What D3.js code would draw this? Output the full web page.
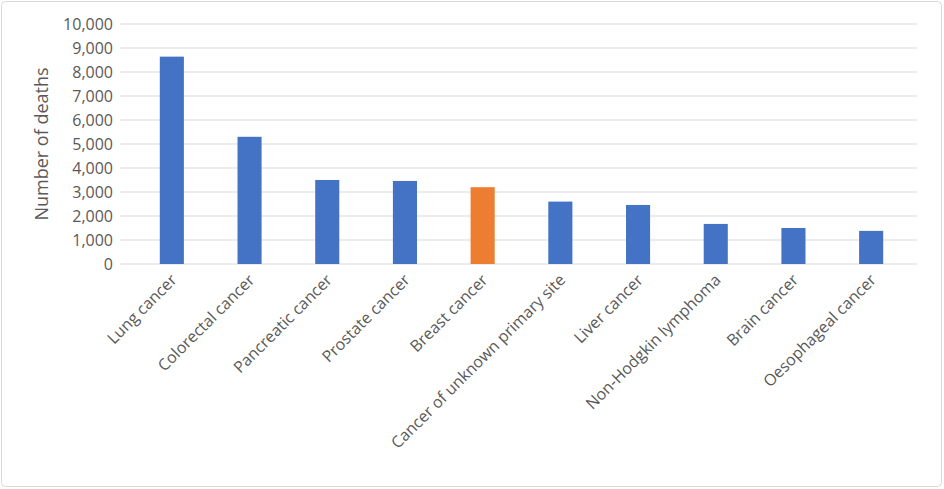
<!DOCTYPE html>
<html><head><meta charset="utf-8">
<script src="https://cdn.jsdelivr.net/npm/d3@7"></script>
<style>body{margin:0;background:#fff;font-family:"Open Sans","Liberation Sans",sans-serif}</style>
</head><body><svg id="c" width="944" height="489"></svg>
<script>
const categories=["Lung cancer","Colorectal cancer","Pancreatic cancer","Prostate cancer","Breast cancer","Cancer of unknown primary site","Liver cancer","Non-Hodgkin lymphoma","Brain cancer","Oesophageal cancer"];
const deaths=[8640,5300,3500,3460,3200,2600,2460,1670,1500,1380];
const highlight="Breast cancer";
const yTicks=[0,1000,2000,3000,4000,5000,6000,7000,8000,9000,10000];
const svg=d3.select("#c");
svg.append("rect").attr("x",1.5).attr("y",1.5).attr("width",940).attr("height",485).attr("rx",4).attr("fill","#fff").attr("stroke","#d9d9d9");
const x=d3.scaleBand().domain(categories).range([133,910]).paddingInner(0.69).paddingOuter(0.345);
const y=d3.scaleLinear().domain([0,10000]).range([264,24]);
const g=svg.append("g");
g.selectAll("line.grid").data(yTicks).join("line").attr("x1",120).attr("x2",917).attr("y1",d=>y(d)).attr("y2",d=>y(d)).attr("stroke","#d9d9d9");
g.selectAll("rect.bar").data(categories).join("rect").attr("x",d=>x(d)).attr("width",x.bandwidth()).attr("y",(d,i)=>y(deaths[i])).attr("height",(d,i)=>y(0)-y(deaths[i])).attr("fill",d=>d===highlight?"#ed7d31":"#4472c4");
g.selectAll("text.yt").data(yTicks).join("text").attr("x",113).attr("y",d=>y(d)).attr("dy","0.35em").attr("text-anchor","end").attr("font-size",16).attr("fill","#595959").text(d3.format(","));
g.selectAll("text.xt").data(categories).join("text").attr("text-anchor","end").attr("font-size",16).attr("fill","#595959")
 .attr("transform",d=>`translate(${x(d)+x.bandwidth()/2+6},${281}) rotate(-45)`).text(d=>d);
svg.append("text").attr("transform","translate(48,144) rotate(-90)").attr("text-anchor","middle").attr("font-size",18).attr("fill","#595959").text("Number of deaths");
</script></body></html>
